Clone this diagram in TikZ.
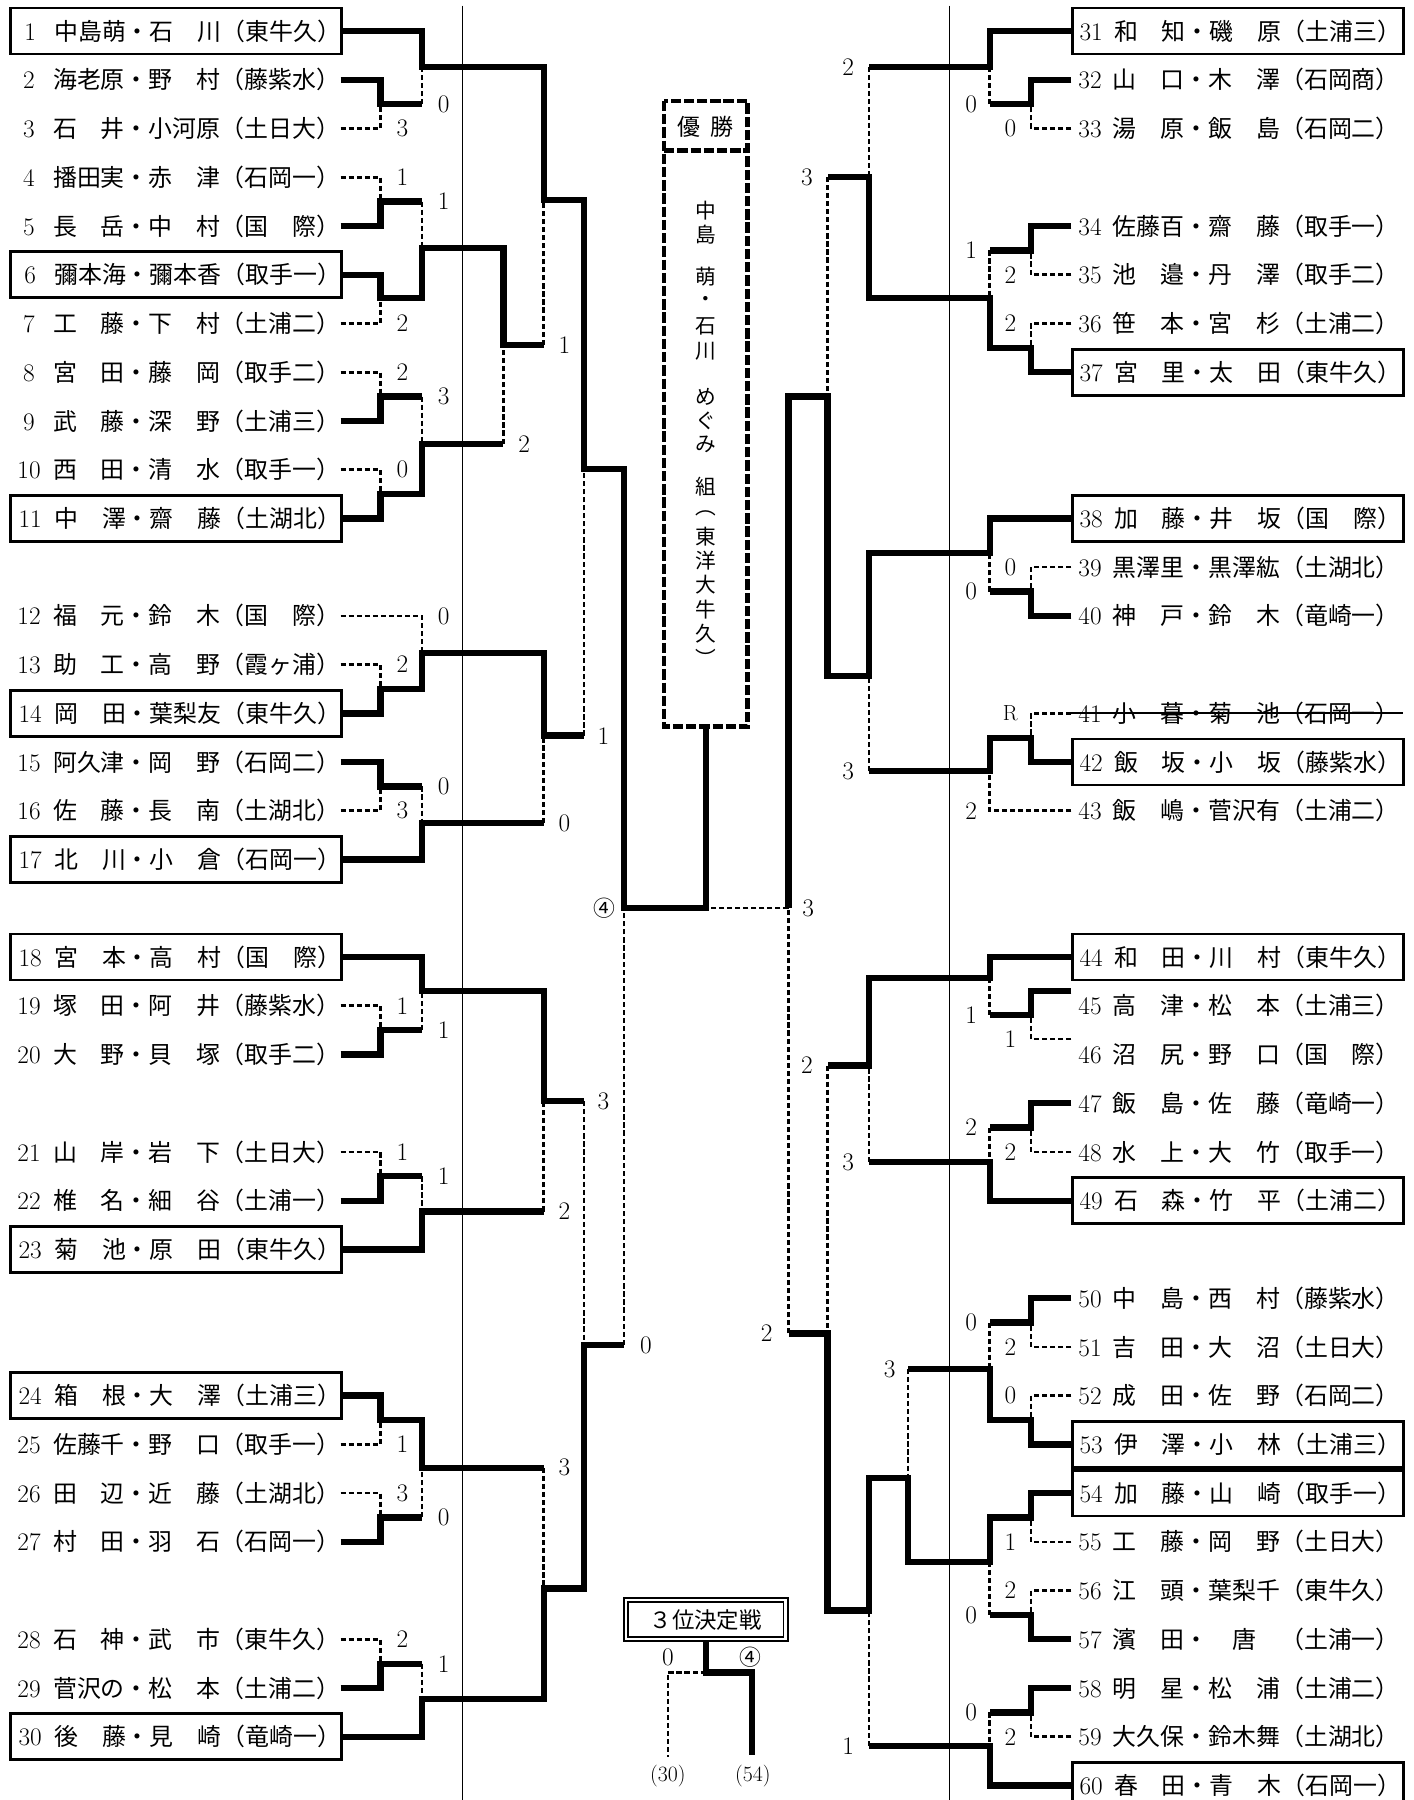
\documentclass[tikz,border=0pt]{standalone}
\usepackage{fontspec}
\newfontfamily\cjk{Noto Sans CJK JP}
\newcommand\LE[4]{\node[entry,#4] (e#1) at (8,#2) {\makebox[288pt][l]{\hspace{7pt}\makebox[31pt][l]{\fontsize{22}{22}\selectfont\ifnum#1<10 \hspace{5pt}\fi#1}{\cjk\fontsize{20.8}{21}\selectfont#3}}};}
\newcommand\RE[4]{\node[entry,#4] (e#1) at (932,#2) {\makebox[288pt][l]{\hspace{6pt}\makebox[30pt][l]{\fontsize{22}{22}\selectfont#1}{\cjk\fontsize{20.8}{21}\selectfont#3}}};}
\begin{document}
\begin{tikzpicture}[x=1pt,y=-1pt,
  win/.style={line width=5.5pt},
  lose/.style={line width=2.3pt,dash pattern=on 4.5pt off 2.5pt},
  lbl/.style={inner sep=0pt,font=\fontsize{22}{22}\selectfont},
  clbl/.style={inner sep=0pt,font=\cjk\fontsize{19}{19}\selectfont},
  entry/.style={minimum width=288pt,minimum height=40pt,inner sep=0pt,anchor=west},
  boxed/.style={draw,line width=2.4pt},
  plain/.style={},
  sepline/.style={line width=0.9pt},
  vch/.style={inner sep=0pt,font=\cjk\fontsize{18}{18}\selectfont},
  champb/.style={line width=4pt,dash pattern=on 9pt off 2.5pt},
]
\useasboundingbox (0,0) rectangle (1230,1566);
\clip (0,0) rectangle (1230,1566);
\fill[white] (0,0) rectangle (1230,1566);
\draw[sepline] (402,5) -- (402,1566);
\draw[sepline] (826,5) -- (826,1566);

% ---------------- left entries
\LE{1}{27}{中島萌・石　川（東牛久）}{boxed}
\LE{2}{69.4}{海老原・野　村（藤紫水）}{plain}
\LE{3}{111.8}{石　井・小河原（土日大）}{plain}
\LE{4}{154.2}{播田実・赤　津（石岡一）}{plain}
\LE{5}{196.6}{長　岳・中　村（国　際）}{plain}
\LE{6}{239}{彌本海・彌本香（取手一）}{boxed}
\LE{7}{281.4}{工　藤・下　村（土浦二）}{plain}
\LE{8}{323.8}{宮　田・藤　岡（取手二）}{plain}
\LE{9}{366.2}{武　藤・深　野（土浦三）}{plain}
\LE{10}{408.6}{西　田・清　水（取手一）}{plain}
\LE{11}{451}{中　澤・齋　藤（土湖北）}{boxed}
\LE{12}{535.8}{福　元・鈴　木（国　際）}{plain}
\LE{13}{578.2}{助　工・高　野（霞ヶ浦）}{plain}
\LE{14}{620.6}{岡　田・葉梨友（東牛久）}{boxed}
\LE{15}{663}{阿久津・岡　野（石岡二）}{plain}
\LE{16}{705.4}{佐　藤・長　南（土湖北）}{plain}
\LE{17}{747.8}{北　川・小　倉（石岡一）}{boxed}
\LE{18}{832.6}{宮　本・高　村（国　際）}{boxed}
\LE{19}{875}{塚　田・阿　井（藤紫水）}{plain}
\LE{20}{917.4}{大　野・貝　塚（取手二）}{plain}
\LE{21}{1002.2}{山　岸・岩　下（土日大）}{plain}
\LE{22}{1044.6}{椎　名・細　谷（土浦一）}{plain}
\LE{23}{1087}{菊　池・原　田（東牛久）}{boxed}
\LE{24}{1214.2}{箱　根・大　澤（土浦三）}{boxed}
\LE{25}{1256.6}{佐藤千・野　口（取手一）}{plain}
\LE{26}{1299}{田　辺・近　藤（土湖北）}{plain}
\LE{27}{1341.4}{村　田・羽　石（石岡一）}{plain}
\LE{28}{1426.2}{石　神・武　市（東牛久）}{plain}
\LE{29}{1468.6}{菅沢の・松　本（土浦二）}{plain}
\LE{30}{1511}{後　藤・見　崎（竜崎一）}{boxed}

% ---------------- right entries
\RE{31}{27}{和　知・磯　原（土浦三）}{boxed}
\RE{32}{69.4}{山　口・木　澤（石岡商）}{plain}
\RE{33}{111.8}{湯　原・飯　島（石岡二）}{plain}
\RE{34}{196.6}{佐藤百・齋　藤（取手一）}{plain}
\RE{35}{239}{池　邉・丹　澤（取手二）}{plain}
\RE{36}{281.4}{笹　本・宮　杉（土浦二）}{plain}
\RE{37}{323.8}{宮　里・太　田（東牛久）}{boxed}
\RE{38}{451}{加　藤・井　坂（国　際）}{boxed}
\RE{39}{493.4}{黒澤里・黒澤紘（土湖北）}{plain}
\RE{40}{535.8}{神　戸・鈴　木（竜崎一）}{plain}
\RE{41}{620.6}{小　暮・菊　池（石岡一）}{plain}
\RE{42}{663}{飯　坂・小　坂（藤紫水）}{boxed}
\RE{43}{705.4}{飯　嶋・菅沢有（土浦二）}{plain}
\RE{44}{832.6}{和　田・川　村（東牛久）}{boxed}
\RE{45}{875}{高　津・松　本（土浦三）}{plain}
\RE{46}{917.4}{沼　尻・野　口（国　際）}{plain}
\RE{47}{959.8}{飯　島・佐　藤（竜崎一）}{plain}
\RE{48}{1002.2}{水　上・大　竹（取手一）}{plain}
\RE{49}{1044.6}{石　森・竹　平（土浦二）}{boxed}
\RE{50}{1129.4}{中　島・西　村（藤紫水）}{plain}
\RE{51}{1171.8}{吉　田・大　沼（土日大）}{plain}
\RE{52}{1214.2}{成　田・佐　野（石岡二）}{plain}
\RE{53}{1256.6}{伊　澤・小　林（土浦三）}{boxed}
\RE{54}{1299}{加　藤・山　崎（取手一）}{boxed}
\RE{55}{1341.4}{工　藤・岡　野（土日大）}{plain}
\RE{56}{1383.8}{江　頭・葉梨千（東牛久）}{plain}
\RE{57}{1426.2}{濱　田・　唐　（土浦一）}{plain}
\RE{58}{1468.6}{明　星・松　浦（土浦二）}{plain}
\RE{59}{1511}{大久保・鈴木舞（土湖北）}{plain}
\RE{60}{1553.4}{春　田・青　木（石岡一）}{boxed}
\draw[line width=1.6pt] (e41.west) -- (e41.east);
\coordinate (c45) at (932,862);
\coordinate (c46) at (932,904);

% ---------------- champion box
\node[minimum width=72pt,minimum height=544pt,inner sep=0pt] (champ) at (614,360) {};
\draw[champb] (champ.north west) rectangle (champ.south east);
\draw[champb] (champ.west |- 0,131) -- (champ.east |- 0,131);
\node[inner sep=0pt,font=\cjk\fontsize{20}{20}\selectfont] (ctitle) at (614,110) {優\hspace{9pt}勝};
\foreach \ch/\yy [count=\i] in {中/183,島/204,萌/241,・/262,石/284,川/306,め/345,ぐ/366,み/387,組/423,︵/447,東/467,洋/488,大/509,牛/530,久/551,︶/572}
  {\node[vch] (v\i) at (614,\yy) {\ch};}

% ---------------- left bracket
\draw[win] (e1.east) -| (367,58) -- (473,58) -- (473,174) -- (508,174) -- (508,408) -- (543,408) -- (543,790) -- (614,790) -- (champ.south);
\draw[win] (e2.east) -| (331,90.6) -- (367,90.6);
\draw[lose] (e3.east) -| (331,90.6);
\draw[lose] (367,90.6) -- (367,58);
\draw[lose] (e4.east) -| (331,175.4);
\draw[win] (e5.east) -| (331,175.4) -- (367,175.4);
\draw[lose] (367,175.4) -- (367,216);
\draw[win] (e6.east) -| (331,259) -- (367,259) -- (367,216) -- (438,216) -- (438,300) -- (473,300);
\draw[lose] (e7.east) -| (331,259);
\draw[lose] (473,300) -- (473,174);
\draw[lose] (e8.east) -| (331,345);
\draw[win] (e9.east) -| (331,345) -- (367,345);
\draw[lose] (367,345) -- (367,386);
\draw[lose] (e10.east) -| (331,429.8);
\draw[win] (e11.east) -| (331,429.8) -- (367,429.8) -- (367,386) -- (438,386);
\draw[lose] (438,386) -- (438,300);
\draw[lose] (e12.east) -| (367,568);
\draw[lose] (e13.east) -| (331,599.4);
\draw[win] (e14.east) -| (331,599.4) -- (367,599.4) -- (367,568) -- (473,568) -- (473,640) -- (508,640);
\draw[lose] (508,640) -- (508,408);
\draw[win] (e15.east) -| (331,684.2) -- (367,684.2);
\draw[lose] (e16.east) -| (331,684.2);
\draw[lose] (367,684.2) -- (367,716);
\draw[win] (e17.east) -| (367,716) -- (473,716);
\draw[lose] (473,716) -- (473,640);
\draw[win] (e18.east) -| (367,862) -- (473,862) -- (473,958) -- (508,958);
\draw[lose] (e19.east) -| (331,896.2);
\draw[win] (e20.east) -| (331,896.2) -- (367,896.2);
\draw[lose] (367,896.2) -- (367,862);
\draw[lose] (508,958) -- (508,1170);
\draw[lose] (e21.east) -| (331,1023.4);
\draw[win] (e22.east) -| (331,1023.4) -- (367,1023.4);
\draw[lose] (367,1023.4) -- (367,1054);
\draw[win] (e23.east) -| (367,1054) -- (473,1054);
\draw[lose] (473,1054) -- (473,958);
\draw[win] (e24.east) -| (331,1235.4) -- (367,1235.4) -- (367,1277) -- (473,1277);
\draw[lose] (e25.east) -| (331,1235.4);
\draw[lose] (e26.east) -| (331,1320.2);
\draw[win] (e27.east) -| (331,1320.2) -- (367,1320.2);
\draw[lose] (367,1320.2) -- (367,1277);
\draw[lose] (473,1277) -- (473,1382);
\draw[lose] (e28.east) -| (331,1447.4);
\draw[win] (e29.east) -| (331,1447.4) -- (367,1447.4);
\draw[lose] (367,1447.4) -- (367,1478);
\draw[win] (e30.east) -| (367,1478) -- (473,1478) -- (473,1382) -- (508,1382) -- (508,1170) -- (543,1170);
\draw[lose] (543,1170) -- (543,790);

% ---------------- right bracket
\draw[win] (e31.west) -| (861,58) -- (756,58);
\draw[win] (e32.west) -| (897,90.6) -- (861,90.6);
\draw[lose] (e33.west) -| (897,90.6);
\draw[lose] (861,90.6) -- (861,58);
\draw[lose] (756,58) -- (756,154);
\draw[win] (e34.west) -| (897,217.8) -- (861,217.8);
\draw[lose] (e35.west) -| (897,217.8);
\draw[lose] (861,217.8) -- (861,259);
\draw[lose] (e36.west) -| (897,302.6);
\draw[win] (e37.west) -| (897,302.6) -- (861,302.6) -- (861,259) -- (756,259) -- (756,154) -- (720,154);
\draw[lose] (720,154) -- (720,345);
\draw[win] (e38.west) -| (861,481) -- (756,481) -- (756,588) -- (720,588) -- (720,345) -- (686,345) -- (686,790);
\draw[lose] (686,790) -- (614,790);
\draw[lose] (e39.west) -| (897,514.6);
\draw[win] (e40.west) -| (897,514.6) -- (861,514.6);
\draw[lose] (861,514.6) -- (861,481);
\draw[lose] (e41.west) -| (897,641.8);
\draw[win] (e42.west) -| (897,641.8) -- (861,641.8) -- (861,671) -- (756,671);
\draw[lose] (e43.west) -| (861,671);
\draw[lose] (756,671) -- (756,588);
\draw[win] (e44.west) -| (861,851) -- (756,851) -- (756,927) -- (720,927);
\draw[win] (c45) -| (897,883) -- (861,883);
\draw[lose] (c46) -| (897,883);
\draw[lose] (861,883) -- (861,851);
\draw[win] (e47.west) -| (897,981) -- (861,981);
\draw[lose] (e48.west) -| (897,981);
\draw[lose] (861,981) -- (861,1011);
\draw[win] (e49.west) -| (861,1011) -- (756,1011);
\draw[lose] (756,1011) -- (756,927);
\draw[lose] (720,927) -- (720,1160);
\draw[win] (e50.west) -| (897,1150.6) -- (861,1150.6);
\draw[lose] (e51.west) -| (897,1150.6);
\draw[lose] (861,1150.6) -- (861,1191);
\draw[lose] (e52.west) -| (897,1235.4);
\draw[win] (e53.west) -| (897,1235.4) -- (861,1235.4) -- (861,1191) -- (790,1191);
\draw[lose] (790,1191) -- (790,1286);
\draw[win] (e54.west) -| (897,1320.2) -- (861,1320.2) -- (861,1359) -- (790,1359) -- (790,1286) -- (756,1286) -- (756,1401) -- (720,1401) -- (720,1160) -- (686,1160);
\draw[lose] (686,1160) -- (686,790);
\draw[lose] (e55.west) -| (897,1320.2);
\draw[lose] (e56.west) -| (897,1405);
\draw[win] (e57.west) -| (897,1405) -- (861,1405);
\draw[lose] (861,1405) -- (861,1359);
\draw[win] (e58.west) -| (897,1489.8) -- (861,1489.8);
\draw[lose] (e59.west) -| (897,1489.8);
\draw[lose] (861,1489.8) -- (861,1519);
\draw[win] (e60.west) -| (861,1519) -- (756,1519);
\draw[lose] (756,1519) -- (756,1401);

% ---------------- score labels
\foreach \x/\y/\t [count=\i] in {386/90.6/0,350/111.8/3,350/154.2/1,386/175.4/1,350/281.4/2,350/323.8/2,386/345/3,350/408.6/0,456/386/2,491/300/1,386/535.8/0,350/578.2/2,525/640/1,386/684.2/0,350/705.4/3,491/716/0,350/875/1,386/896.2/1,525/958/3,350/1002.2/1,386/1023.4/1,491/1054/2,562/1170/0,350/1256.6/1,491/1277/3,350/1299/3,386/1320.2/0,350/1426.2/2,386/1447.4/1}
  {\node[lbl] (sl\i) at (\x,\y) {\t};}
\foreach \x/\y/\t [count=\i] in {738/58/2,845/90.6/0,879/111.8/0,702/154/3,845/217.8/1,879/239/2,879/281.4/2,879/493.4/0,845/514.6/0,738/671/3,845/705.4/2,703/790/3,845/883/1,879/904/1,702/927/2,845/981/2,879/1002.2/2,738/1011/3,845/1150.6/0,879/1171.8/2,667/1160/2,774/1191/3,879/1214.2/0,879/1341.4/1,879/1383.8/2,845/1405/0,845/1489.8/0,879/1511/2,738/1519/1}
  {\node[lbl] (sr\i) at (\x,\y) {\t};}
\node[lbl,font=\fontsize{19}{19}\selectfont] (sR) at (879,620.6) {R};
\node[clbl] (fin4) at (526,790) {④};

% ---------------- third place
\node[draw,double,double distance=2.2pt,line width=1.6pt,minimum width=139pt,minimum height=34pt,inner sep=0pt,font=\cjk\fontsize{19.5}{20}\selectfont] (third) at (614,1409) {３位決定戦};
\coordinate (k3) at (614,1455);
\coordinate (t54) at (654,1527);
\coordinate (t30) at (581,1529);
\draw[win] (third.south) -- (k3) -- (654,1455) -- (t54);
\draw[lose] (k3) -- (581,1455) -- (t30);
\node[lbl] (tz) at (581,1442) {0};
\node[clbl] (t4) at (653,1442) {④};
\node[lbl,font=\fontsize{19}{19}\selectfont] (p30) at (581,1545) {(30)};
\node[lbl,font=\fontsize{19}{19}\selectfont] (p54) at (655,1545) {(54)};
\end{tikzpicture}
\end{document}
